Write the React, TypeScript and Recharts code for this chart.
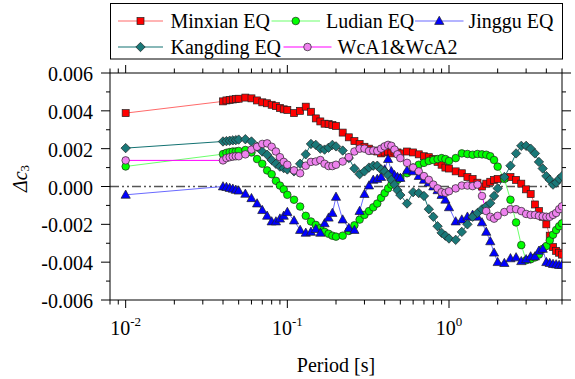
import React from 'react';
import { LineChart, Line, XAxis, YAxis, ReferenceLine, Legend } from 'recharts';

const FONT = "'Liberation Serif', 'Times New Roman', serif";

const periods = [0.01, 0.04, 0.042, 0.044, 0.046, 0.048, 0.05, 0.055, 0.06, 0.065, 0.07, 0.075, 0.08, 0.085, 0.09, 0.095, 0.1, 0.11, 0.12, 0.13, 0.14, 0.15, 0.16, 0.17, 0.18, 0.19, 0.2, 0.22, 0.24, 0.26, 0.28, 0.3, 0.32, 0.34, 0.36, 0.38, 0.4, 0.42, 0.44, 0.46, 0.48, 0.5, 0.55, 0.6, 0.65, 0.7, 0.75, 0.8, 0.85, 0.9, 0.95, 1.0, 1.1, 1.2, 1.3, 1.4, 1.5, 1.6, 1.7, 1.8, 1.9, 2.0, 2.2, 2.4, 2.6, 2.8, 3.0, 3.2, 3.4, 3.6, 3.8, 4.0, 4.2, 4.4, 4.6, 4.8, 5.0];

const minxian = [0.00388, 0.0045, 0.00455, 0.00458, 0.0046, 0.00462, 0.00464, 0.0047, 0.00466, 0.00455, 0.00445, 0.0044, 0.00432, 0.00425, 0.00415, 0.00408, 0.00405, 0.00388, 0.004, 0.00422, 0.00395, 0.0036, 0.00344, 0.00332, 0.0033, 0.00325, 0.0032, 0.00285, 0.0026, 0.0024, 0.00225, 0.0021, 0.002, 0.0019, 0.00185, 0.00175, 0.0018, 0.00185, 0.00175, 0.00185, 0.0018, 0.00175, 0.00185, 0.0018, 0.0017, 0.0016, 0.00155, 0.00145, 0.0013, 0.00115, 0.001, 0.00095, 0.0008, 0.0007, 0.0005, 0.0004, 0.0002, 0.0, 0.00015, 0.00025, 0.00035, 0.0004, 0.00045, 0.0005, 0.00035, 0.00015, -0.00015, -0.0004, -0.00095, -0.0013, -0.0016, -0.002, -0.0026, -0.0032, -0.0034, -0.0035, -0.0036];

const ludian = [0.00106, 0.00171, 0.00178, 0.00182, 0.00185, 0.00185, 0.00188, 0.00193, 0.0018, 0.00145, 0.0012, 0.00085, 0.00065, 0.0003, 0.00005, -0.00015, -0.00044, -0.0007, -0.00106, -0.00155, -0.00185, -0.00203, -0.0022, -0.0024, -0.0025, -0.0026, -0.00265, -0.0026, -0.00235, -0.00205, -0.00175, -0.0015, -0.0013, -0.0011, -0.0009, -0.0006, -0.00035, -0.0001, 0.0001, 0.00025, 0.00035, 0.00045, 0.0007, 0.001, 0.00115, 0.00125, 0.00135, 0.0014, 0.00145, 0.0015, 0.00145, 0.00135, 0.0015, 0.00175, 0.00172, 0.00168, 0.00172, 0.0017, 0.00168, 0.0016, 0.0014, 0.00105, 0.0004, -0.0007, -0.0019, -0.0031, -0.0039, -0.00385, -0.00375, -0.0036, -0.0033, -0.00315, -0.00285, -0.00255, -0.0023, -0.0021, -0.00195];

const jinggu = [-0.00044, 0.0, -0.00003, -0.00008, -0.00012, -0.00018, -0.00022, -0.00039, -0.00062, -0.0009, -0.00125, -0.00155, -0.00185, -0.00185, -0.0017, -0.00155, -0.00135, -0.0018, -0.0023, -0.00245, -0.0024, -0.00225, -0.00245, -0.00195, -0.00165, -0.0014, -0.00055, -0.00175, -0.0022, -0.0023, -0.0013, -0.0004, 0.00005, 0.00035, 0.0004, 0.0005, 0.0009, 0.00145, 0.0008, 0.0006, 0.0005, 0.00045, 0.00085, 0.0008, 0.00055, 0.00035, 0.0002, 0.0, -0.0002, -0.00045, -0.0007, -0.0011, -0.00185, -0.00175, -0.0016, -0.0015, -0.0016, -0.0019, -0.0024, -0.0029, -0.0035, -0.004, -0.00405, -0.0038, -0.00375, -0.00395, -0.00385, -0.0037, -0.0037, -0.0034, -0.0033, -0.004, -0.00405, -0.0041, -0.00412, -0.00415, -0.00415];

const kangding = [0.00203, 0.00238, 0.0024, 0.00242, 0.00244, 0.00245, 0.00248, 0.0025, 0.00238, 0.0021, 0.00185, 0.00168, 0.0014, 0.0012, 0.00105, 0.00097, 0.0009, 0.0008, 0.0012, 0.0017, 0.00225, 0.0022, 0.002, 0.00195, 0.00205, 0.0022, 0.00212, 0.0019, 0.0015, 0.00095, 0.00065, 0.0008, 0.001, 0.0011, 0.0011, 0.0009, 0.0008, 0.0006, 0.00035, 0.0001, -0.0002, -0.00045, -0.0009, -0.0003, -0.00035, -0.0005, -0.0012, -0.0016, -0.0021, -0.00245, -0.0026, -0.00275, -0.00282, -0.0024, -0.002, -0.0016, -0.0014, -0.0012, -0.00105, -0.00088, -0.0005, -0.0001, 0.0005, 0.0011, 0.00175, 0.00215, 0.00215, 0.002, 0.00175, 0.0013, 0.00095, 0.00055, 0.00035, 0.0001, 0.0002, 0.0004, 0.00055];

const wca = [0.00138, 0.00138, 0.0015, 0.00155, 0.00158, 0.0016, 0.0016, 0.0017, 0.00195, 0.0021, 0.00225, 0.00228, 0.0021, 0.00185, 0.00155, 0.0013, 0.00115, 0.00085, 0.0007, 0.0011, 0.0013, 0.00132, 0.0014, 0.0012, 0.00108, 0.00108, 0.00115, 0.00132, 0.00155, 0.00185, 0.002, 0.002, 0.00188, 0.0019, 0.00188, 0.002, 0.00212, 0.0022, 0.00215, 0.00195, 0.0017, 0.0015, 0.00125, 0.001, 0.0008, 0.00055, 0.00035, 0.0001, -0.0001, -0.0003, -0.00033, -0.00025, -0.0001, 0.00005, 0.00005, 0.00002, 0.0001, -0.0005, -0.0013, -0.0016, -0.0017, -0.00155, -0.00135, -0.0012, -0.0012, -0.0013, -0.00145, -0.0015, -0.0015, -0.00155, -0.00158, -0.0016, -0.0016, -0.0015, -0.0014, -0.0012, -0.00105];

const seriesNames = ['Minxian EQ', 'Ludian EQ', 'Jinggu EQ', 'Kangding EQ', 'WcA1&WcA2'];

const xTicks = [0.008, 0.009, 0.01, 0.02, 0.03, 0.04, 0.05, 0.06, 0.07, 0.08, 0.09, 0.1, 0.2, 0.3, 0.4, 0.5, 0.6, 0.7, 0.8, 0.9, 1, 2, 3, 4, 5];
const yTicks = [-0.006, -0.005, -0.004, -0.003, -0.002, -0.001, 0, 0.001, 0.002, 0.003, 0.004, 0.005, 0.006];
const xDomain = [0.008, 5];
const yDomain = [-0.006, 0.006];

const data = periods.map((p, i) => ({
  period: p,
  minxian: minxian[i],
  ludian: ludian[i],
  jinggu: jinggu[i],
  kangding: kangding[i],
  wca: wca[i],
}));

const SERIES = [
  { key: 'minxian', name: seriesNames[0], line: '#ff6a6a', fill: '#ff0000', shape: 'square' },
  { key: 'ludian', name: seriesNames[1], line: '#6cff6c', fill: '#00ff00', shape: 'circle' },
  { key: 'jinggu', name: seriesNames[2], line: '#6a6aff', fill: '#0000ff', shape: 'triangle' },
  { key: 'kangding', name: seriesNames[3], line: '#137272', fill: '#1a7878', shape: 'diamond' },
  { key: 'wca', name: seriesNames[4], line: '#ff00ff', fill: '#ee82ee', shape: 'circle' },
];

function Marker({ shape, cx, cy, fill }: { shape: string; cx: number; cy: number; fill: string }) {
  const stroke = '#222';
  const sw = 0.7;
  if (cx == null || cy == null || isNaN(cx) || isNaN(cy)) return null;
  if (shape === 'square') {
    return <rect x={cx - 3.5} y={cy - 3.5} width={7} height={7} fill={fill} stroke={stroke} strokeWidth={sw} />;
  }
  if (shape === 'circle') {
    return <circle cx={cx} cy={cy} r={3.8} fill={fill} stroke={stroke} strokeWidth={sw} />;
  }
  if (shape === 'triangle') {
    return (
      <polygon
        points={`${cx},${cy - 4.8} ${cx + 4.6},${cy + 3.4} ${cx - 4.6},${cy + 3.4}`}
        fill={fill}
        stroke={stroke}
        strokeWidth={sw}
      />
    );
  }
  return (
    <polygon
      points={`${cx},${cy - 4.7} ${cx + 4.7},${cy} ${cx},${cy + 4.7} ${cx - 4.7},${cy}`}
      fill={fill}
      stroke={stroke}
      strokeWidth={sw}
    />
  );
}

const isMajorX = (v: number) => {
  const l = Math.log10(v);
  return Math.abs(l - Math.round(l)) < 1e-9;
};

const XTickBottom = (props: any) => {
  const { x, y, payload } = props;
  const v = payload.value;
  const major = isMajorX(v);
  const e = Math.round(Math.log10(v));
  return (
    <g>
      <line x1={x} x2={x} y1={y} y2={y + (major ? 8 : 4.5)} stroke="#000" strokeWidth={1} />
      {major && (
        <text x={x} y={y + 35} textAnchor="middle" fontFamily={FONT} fontSize={20} fill="#000">
          10
          <tspan dy={-9} fontSize={13}>{String(e)}</tspan>
        </text>
      )}
    </g>
  );
};

const XTickTop = (props: any) => {
  const { x, y, payload } = props;
  const major = isMajorX(payload.value);
  return <line x1={x} x2={x} y1={y} y2={y - (major ? 8 : 4.5)} stroke="#000" strokeWidth={1} />;
};

const isMajorY = (v: number) => Math.round(Math.abs(v) * 1000) % 2 === 0;

const YTickLeft = (props: any) => {
  const { x, y, payload } = props;
  const v = payload.value;
  const major = isMajorY(v);
  return (
    <g>
      <line x1={x - (major ? 9 : 4)} x2={x} y1={y} y2={y} stroke="#000" strokeWidth={1} />
      {major && (
        <text x={x - 17} y={y + 8} textAnchor="end" fontFamily={FONT} fontSize={20} fill="#000">
          {v.toFixed(3)}
        </text>
      )}
    </g>
  );
};

const YTickRight = (props: any) => {
  const { x, y, payload } = props;
  const major = isMajorY(payload.value);
  return <line x1={x} x2={x + (major ? 9 : 4)} y1={y} y2={y} stroke="#000" strokeWidth={1} />;
};

const XLabel = (props: any) => {
  const vb = props.viewBox || { x: 110, y: 300, width: 452, height: 79 };
  return (
    <text x={vb.x + vb.width / 2} y={vb.y + 72} textAnchor="middle" fontFamily={FONT} fontSize={20} fill="#000">
      Period [s]
    </text>
  );
};

const YLabel = (props: any) => {
  const vb = props.viewBox || { x: 0, y: 73, width: 110, height: 227 };
  const cx = 27;
  const cy = vb.y + vb.height / 2 - 8;
  return (
    <text x={cx} y={cy} transform={`rotate(-90 ${cx} ${cy})`} textAnchor="middle" fontFamily={FONT} fontSize={20} fill="#000">
      <tspan fontStyle="italic">Δc</tspan>
      <tspan fontSize={13} dy={2}>3</tspan>
    </text>
  );
};

const LEGEND_ITEMS = [
  { row: 0, x0: 8, x1: 53, tx: 60.5 },
  { row: 0, x0: 161.5, x1: 210, tx: 216 },
  { row: 0, x0: 305, x1: 353.5, tx: 358.5 },
  { row: 1, x0: 8, x1: 53, tx: 60.5 },
  { row: 1, x0: 173.5, x1: 221.5, tx: 227.5 },
];
const ROW_Y = [18, 44];

const renderLegend = () => (
  <svg width={454} height={57} style={{ display: 'block' }}>
    <rect x={0.5} y={0.5} width={452} height={55.5} fill="#fff" stroke="#000" strokeWidth={1} />
    {SERIES.map((s, i) => {
      const it = LEGEND_ITEMS[i];
      const y = ROW_Y[it.row];
      const mx = (it.x0 + it.x1) / 2;
      return (
        <g key={s.key}>
          <line x1={it.x0} x2={it.x1} y1={y} y2={y} stroke={s.line} strokeWidth={1.2} />
          <Marker shape={s.shape} cx={mx} cy={y} fill={s.fill} />
          <text x={it.tx} y={y + 7} fontFamily={FONT} fontSize={20} fill="#000">
            {s.name}
          </text>
        </g>
      );
    })}
  </svg>
);

export default function App() {
  return (
    <div style={{ position: 'absolute', left: 0, top: 0, width: 575, height: 379, background: '#fff' }}>
      <LineChart width={575} height={379} data={data} margin={{ top: 0, right: 0, bottom: 0, left: 0 }}>
        <XAxis
          xAxisId="bottom"
          dataKey="period"
          type="number"
          scale="log"
          domain={xDomain}
          allowDataOverflow
          ticks={xTicks}
          interval={0}
          height={79}
          tickSize={0}
          tickMargin={0}
          tickLine={false}
          tick={<XTickBottom />}
          axisLine={{ stroke: '#000', strokeWidth: 1 }}
          label={<XLabel />}
        />
        <XAxis
          xAxisId="top"
          orientation="top"
          dataKey="period"
          type="number"
          scale="log"
          domain={xDomain}
          allowDataOverflow
          ticks={xTicks}
          interval={0}
          height={73}
          tickSize={0}
          tickMargin={0}
          tickLine={false}
          tick={<XTickTop />}
          axisLine={{ stroke: '#000', strokeWidth: 1 }}
        />
        <YAxis
          yAxisId="left"
          type="number"
          domain={yDomain}
          allowDataOverflow
          ticks={yTicks}
          interval={0}
          width={110}
          tickSize={0}
          tickMargin={0}
          tickLine={false}
          tick={<YTickLeft />}
          axisLine={{ stroke: '#000', strokeWidth: 1 }}
          label={<YLabel />}
        />
        <YAxis
          yAxisId="right"
          orientation="right"
          type="number"
          domain={yDomain}
          allowDataOverflow
          ticks={yTicks}
          interval={0}
          width={13}
          tickSize={0}
          tickMargin={0}
          tickLine={false}
          tick={<YTickRight />}
          axisLine={{ stroke: '#000', strokeWidth: 1 }}
        />
        <ReferenceLine
          xAxisId="bottom"
          yAxisId="left"
          y={0}
          stroke="#555"
          strokeWidth={1.5}
          strokeDasharray="9 3 2 3 2 3"
        />
        <Legend
          layout="horizontal"
          verticalAlign="middle"
          align="center"
          wrapperStyle={{ position: 'absolute', left: 110, top: 3, width: 454, height: 57 }}
          content={renderLegend}
        />
        {SERIES.map((s) => (
          <Line
            key={s.key}
            xAxisId="bottom"
            yAxisId="left"
            type="linear"
            dataKey={s.key}
            name={s.name}
            stroke={s.line}
            strokeWidth={1}
            isAnimationActive={false}
            activeDot={false}
            dot={(p: any) => (
              <Marker key={`${s.key}-${p.index}`} shape={s.shape} cx={p.cx} cy={p.cy} fill={s.fill} />
            )}
          />
        ))}
      </LineChart>
    </div>
  );
}
